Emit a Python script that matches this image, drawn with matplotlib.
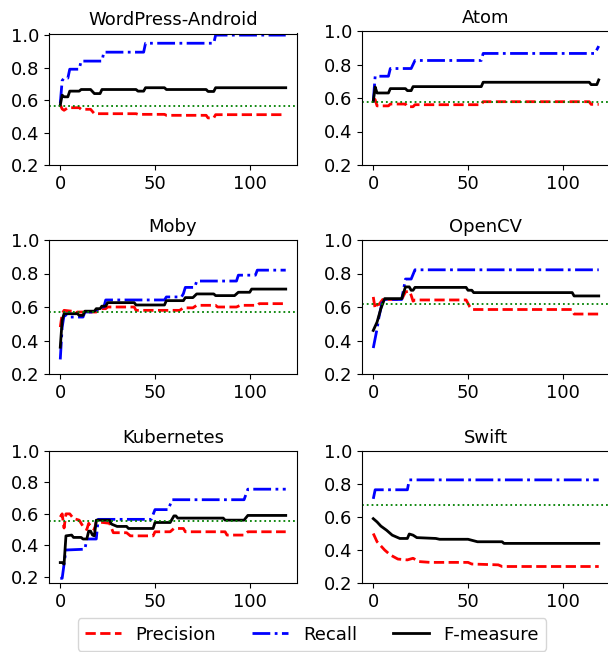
import matplotlib
matplotlib.use('Agg')
import matplotlib.pyplot as plt

plt.rcParams['font.family'] = ['DejaVu Sans']
plt.rcParams['font.size'] = 13

# ---- data: vertices (iteration, value) ----
projects = ['WordPress-Android', 'Atom', 'Moby', 'OpenCV', 'Kubernetes', 'Swift']

# WordPress-Android
wp_rec_x = [0, 1, 2, 4, 5, 10, 11, 22, 23, 44, 45, 81, 82, 119]
wp_rec_y = [0.58, 0.72, 0.735, 0.735, 0.79, 0.79, 0.84, 0.84, 0.895, 0.895, 0.95, 0.95, 1.0, 1.0]
wp_f_x = [0, 1, 2, 4, 5, 10, 11, 16, 18, 21, 22, 40, 41, 44, 45, 55, 56, 77, 78, 81, 82, 119]
wp_f_y = [0.57, 0.63, 0.62, 0.62, 0.655, 0.655, 0.665, 0.665, 0.64, 0.64, 0.665, 0.665, 0.655, 0.655,
          0.676, 0.676, 0.665, 0.665, 0.653, 0.653, 0.676, 0.676]
wp_prec_x = [0, 1, 2, 4, 10, 11, 16, 18, 40, 41, 55, 56, 77, 78, 81, 82, 119]
wp_prec_y = [0.57, 0.545, 0.537, 0.553, 0.553, 0.543, 0.543, 0.516, 0.516, 0.512, 0.512, 0.506, 0.506,
             0.49, 0.49, 0.51, 0.51]
wp_base = 0.563

# Atom
atom_rec_x = [0, 1, 8, 9, 20, 22, 57, 58, 117, 119]
atom_rec_y = [0.58, 0.73, 0.73, 0.776, 0.776, 0.824, 0.824, 0.866, 0.866, 0.91]
atom_f_x = [0, 1, 2, 8, 9, 17, 18, 20, 21, 57, 58, 114, 115, 118, 119]
atom_f_y = [0.58, 0.666, 0.63, 0.63, 0.656, 0.656, 0.644, 0.644, 0.668, 0.668, 0.694, 0.694, 0.68, 0.68, 0.708]
atom_prec_x = [0, 1, 2, 8, 9, 17, 18, 21, 22, 57, 58, 114, 115, 119]
atom_prec_y = [0.6, 0.59, 0.553, 0.553, 0.564, 0.564, 0.548, 0.548, 0.56, 0.56, 0.578, 0.578, 0.562, 0.562]
atom_base = 0.574

# Moby
moby_rec_x = [0, 1, 2, 3, 4, 12, 13, 19, 20, 23, 24, 55, 56, 64, 65, 66, 71, 72, 93, 94, 103, 104, 119]
moby_rec_y = [0.287, 0.48, 0.55, 0.55, 0.54, 0.54, 0.57, 0.57, 0.60, 0.60, 0.642, 0.642, 0.66, 0.66,
              0.68, 0.717, 0.717, 0.755, 0.755, 0.79, 0.79, 0.82, 0.82]
moby_f_x = [0, 1, 2, 9, 10, 12, 13, 18, 19, 21, 22, 24, 25, 39, 40, 55, 56, 65, 66, 70, 72, 81, 82, 92,
            94, 100, 101, 119]
moby_f_y = [0.36, 0.52, 0.56, 0.56, 0.55, 0.55, 0.575, 0.575, 0.59, 0.59, 0.605, 0.605, 0.626, 0.626,
            0.612, 0.612, 0.638, 0.638, 0.656, 0.656, 0.678, 0.678, 0.668, 0.668, 0.688, 0.688, 0.707, 0.707]
moby_prec_x = [0, 1, 2, 6, 7, 8, 9, 19, 20, 24, 25, 39, 40, 63, 65, 70, 72, 82, 83, 93, 95, 104, 105, 119]
moby_prec_y = [0.48, 0.56, 0.58, 0.575, 0.56, 0.56, 0.57, 0.57, 0.59, 0.59, 0.60, 0.60, 0.58, 0.58,
               0.595, 0.595, 0.61, 0.61, 0.60, 0.60, 0.61, 0.61, 0.62, 0.62]
moby_base = 0.572

# OpenCV
cv_rec_x = [0, 2, 3, 5, 15, 17, 20, 22, 119]
cv_rec_y = [0.355, 0.47, 0.54, 0.645, 0.645, 0.767, 0.767, 0.822, 0.822]
cv_f_x = [0, 2, 4, 6, 15, 17, 19, 20, 21, 22, 49, 50, 52, 53, 105, 106, 119]
cv_f_y = [0.46, 0.51, 0.59, 0.65, 0.65, 0.72, 0.72, 0.70, 0.70, 0.717, 0.717, 0.70, 0.70, 0.686,
          0.686, 0.666, 0.666]
cv_prec_x = [0, 1, 2, 3, 5, 15, 17, 19, 20, 21, 22, 49, 51, 52, 105, 106, 119]
cv_prec_y = [0.66, 0.59, 0.615, 0.615, 0.645, 0.645, 0.69, 0.695, 0.67, 0.635, 0.642, 0.642, 0.60,
             0.585, 0.585, 0.558, 0.558]
cv_base = 0.618

# Kubernetes
k8s_rec_x = [0, 1, 3, 13, 14, 19, 20, 48, 50, 57, 59, 97, 99, 119]
k8s_rec_y = [0.19, 0.19, 0.37, 0.375, 0.44, 0.44, 0.565, 0.565, 0.627, 0.627, 0.69, 0.69, 0.757, 0.757]
k8s_f_x = [0, 1, 2, 3, 6, 7, 11, 12, 14, 15, 16, 17, 18, 19, 26, 27, 30, 35, 36, 49, 50, 58, 60, 61,
           62, 86, 87, 97, 99, 119]
k8s_f_y = [0.29, 0.29, 0.28, 0.46, 0.465, 0.45, 0.45, 0.44, 0.44, 0.49, 0.49, 0.465, 0.46, 0.56, 0.56,
           0.535, 0.52, 0.52, 0.507, 0.507, 0.545, 0.545, 0.587, 0.587, 0.573, 0.573, 0.56, 0.56, 0.59, 0.59]
k8s_prec_x = [0, 1, 2, 3, 5, 7, 10, 12, 14, 15, 16, 18, 19, 26, 28, 35, 37, 49, 50, 58, 60, 65, 66,
              87, 88, 97, 99, 119]
k8s_prec_y = [0.58, 0.60, 0.51, 0.60, 0.60, 0.57, 0.56, 0.52, 0.50, 0.54, 0.52, 0.50, 0.55, 0.54, 0.48,
              0.48, 0.46, 0.46, 0.486, 0.486, 0.507, 0.507, 0.486, 0.486, 0.465, 0.465, 0.486, 0.486]
k8s_base = 0.553

# Swift
swift_rec_x = [0, 1, 18, 19, 119]
swift_rec_y = [0.71, 0.765, 0.765, 0.825, 0.825]
swift_f_x = [0, 2, 4, 7, 10, 14, 18, 19, 21, 23, 33, 35, 50, 55, 68, 69, 119]
swift_f_y = [0.59, 0.57, 0.545, 0.52, 0.49, 0.47, 0.47, 0.497, 0.49, 0.475, 0.47, 0.465, 0.465, 0.45,
             0.45, 0.44, 0.44]
swift_prec_x = [0, 2, 6, 9, 13, 18, 21, 24, 30, 50, 52, 66, 68, 119]
swift_prec_y = [0.50, 0.45, 0.40, 0.37, 0.345, 0.34, 0.35, 0.33, 0.325, 0.325, 0.315, 0.31, 0.30, 0.30]
swift_base = 0.672

series = [
    (wp_prec_x, wp_prec_y, wp_rec_x, wp_rec_y, wp_f_x, wp_f_y, wp_base),
    (atom_prec_x, atom_prec_y, atom_rec_x, atom_rec_y, atom_f_x, atom_f_y, atom_base),
    (moby_prec_x, moby_prec_y, moby_rec_x, moby_rec_y, moby_f_x, moby_f_y, moby_base),
    (cv_prec_x, cv_prec_y, cv_rec_x, cv_rec_y, cv_f_x, cv_f_y, cv_base),
    (k8s_prec_x, k8s_prec_y, k8s_rec_x, k8s_rec_y, k8s_f_x, k8s_f_y, k8s_base),
    (swift_prec_x, swift_prec_y, swift_rec_x, swift_rec_y, swift_f_x, swift_f_y, swift_base),
]

# axes boxes in pixels: left, right, top, bottom
W, H = 608, 652
boxes = [(49, 297, 33.5, 165), (362, 610, 31, 165),
         (49, 297, 240, 374), (362, 610, 240, 374),
         (49, 297, 451, 583), (362, 610, 451, 583)]
ylims = [(0.2, 1.01), (0.2, 1.0), (0.2, 1.0), (0.2, 1.0), (0.16, 1.0), (0.2, 1.0)]

fig = plt.figure(figsize=(W / 100, H / 100), dpi=100)

for i, name in enumerate(projects):
    l, r, t, b = boxes[i]
    ax = fig.add_axes([l / W, 1 - b / H, (r - l) / W, (b - t) / H])
    px, py, rx, ry, fx, fy, base = series[i]
    ax.plot(px, py, color='r', linestyle='--', linewidth=2, label='Precision')
    ax.plot(rx, ry, color='b', linestyle='-.', linewidth=2, label='Recall')
    ax.plot(fx, fy, color='k', linestyle='-', linewidth=2, label='F-measure')
    ax.axhline(base, color='g', linestyle=':', linewidth=1.3)
    ax.set_xlim(-5.95, 124.95)
    ax.set_ylim(*ylims[i])
    ax.set_xticks([0, 50, 100])
    ax.set_yticks([0.2, 0.4, 0.6, 0.8, 1.0])
    ax.set_title(name, fontsize=13)
    if i == 0:
        handles, labels = ax.get_legend_handles_labels()

fig.legend(handles, labels, loc='center', ncol=3, fontsize=13,
           bbox_to_anchor=(312 / W, 1 - 634.5 / H))

fig.savefig('out.png', dpi=100)
